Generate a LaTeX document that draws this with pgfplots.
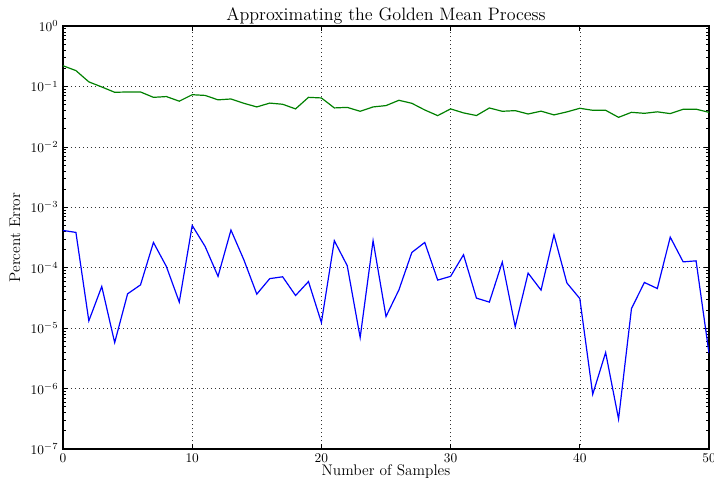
\documentclass[border=0pt]{standalone}
\usepackage{pgfplots}
\pgfplotsset{compat=1.18}
\definecolor{mplgreen}{rgb}{0,0.5,0}
\definecolor{mplblue}{rgb}{0,0,1}
\pgfplotstableread{
x y
0 0.22
1 0.183
2 0.119
3 0.098
4 0.080
5 0.081
6 0.081
7 0.066
8 0.068
9 0.057
10 0.073
11 0.071
12 0.060
13 0.062
14 0.0526
15 0.0458
16 0.053
17 0.0507
18 0.0425
19 0.066
20 0.0645
21 0.0441
22 0.045
23 0.0388
24 0.0458
25 0.0482
26 0.059
27 0.0526
28 0.0408
29 0.0329
30 0.0425
31 0.0365
32 0.033
33 0.044
34 0.0388
35 0.0398
36 0.035
37 0.039
38 0.0338
39 0.0379
40 0.0435
41 0.0403
42 0.0403
43 0.0308
44 0.0373
45 0.0359
46 0.038
47 0.0355
48 0.0419
49 0.042
50 0.0373
}\greentable
\pgfplotstableread{
x y
0 4.14e-4
1 3.84e-4
2 1.32e-5
3 4.89e-5
4 5.77e-6
5 3.7e-5
6 5.2e-5
7 2.62e-4
8 1.05e-4
9 2.7e-5
10 5.0e-4
11 2.25e-4
12 7.2e-5
13 4.2e-4
14 1.35e-4
15 3.66e-5
16 6.6e-5
17 7.08e-5
18 3.47e-5
19 5.9e-5
20 1.24e-5
21 2.8e-4
22 1.08e-4
23 7.0e-6
24 2.8e-4
25 1.56e-5
26 4.3e-5
27 1.79e-4
28 2.62e-4
29 6.24e-5
30 7.2e-5
31 1.64e-4
32 3.14e-5
33 2.7e-5
34 1.24e-4
35 1.06e-5
36 8.15e-5
37 4.26e-5
38 3.51e-4
39 5.6e-5
40 3.09e-5
41 8.05e-7
42 3.95e-6
43 3.14e-7
44 2.11e-5
45 5.7e-5
46 4.53e-5
47 3.21e-4
48 1.25e-4
49 1.3e-4
50 3.85e-6
}\bluetable
\begin{document}
\begin{tikzpicture}
\begin{axis}[
  scale only axis,
  width=484.5pt, height=317.25pt,
  ymode=log,
  xmin=0, xmax=50, ymin=1e-7, ymax=1,
  xtick={0,10,20,30,40,50},
  ytick={1e-7,1e-6,1e-5,1e-4,1e-3,1e-2,1e-1,1},
  minor ytick={2e-7,3e-7,4e-7,5e-7,6e-7,7e-7,8e-7,9e-7,
               2e-6,3e-6,4e-6,5e-6,6e-6,7e-6,8e-6,9e-6,
               2e-5,3e-5,4e-5,5e-5,6e-5,7e-5,8e-5,9e-5,
               2e-4,3e-4,4e-4,5e-4,6e-4,7e-4,8e-4,9e-4,
               2e-3,3e-3,4e-3,5e-3,6e-3,7e-3,8e-3,9e-3,
               2e-2,3e-2,4e-2,5e-2,6e-2,7e-2,8e-2,9e-2,
               2e-1,3e-1,4e-1,5e-1,6e-1,7e-1,8e-1,9e-1},
  tick align=inside,
  tick pos=both,
  major tick length=4pt,
  minor tick length=2pt,
  tick style={black, line width=0.5pt},
  axis line style={black, line width=0.9pt},
  grid=major,
  major grid style={black!80, line width=0.4pt, dash pattern=on 1pt off 2pt},
  minor grid style={draw=none},
  ticklabel style={font=\fontsize{10}{12}\selectfont},
  xlabel={Number of Samples},
  xlabel style={at={(axis description cs:0.5,-0.0544)}, anchor=center, font=\fontsize{11.5}{14}\selectfont},
  ylabel={Percent Error},
  ylabel style={at={(axis description cs:-0.0743,0.5)}, anchor=center, rotate=0, font=\fontsize{11.5}{14}\selectfont},
  every axis plot/.append style={line width=0.9pt, mark=none},
  clip=true,
]
\addplot[mplgreen] table[x=x,y=y] {\greentable};
\addplot[mplblue] table[x=x,y=y] {\bluetable};
\end{axis}
\node[anchor=base, font=\fontsize{13.5}{16}\selectfont, inner sep=0pt]
  at ([yshift=4.5pt]current axis.north) {Approximating the Golden Mean Process};
\pgfresetboundingbox
\path[use as bounding box] ([xshift=-47.25pt,yshift=-28.5pt]current axis.south west) rectangle ++(535.5pt,365.25pt);
\end{tikzpicture}
\end{document}
